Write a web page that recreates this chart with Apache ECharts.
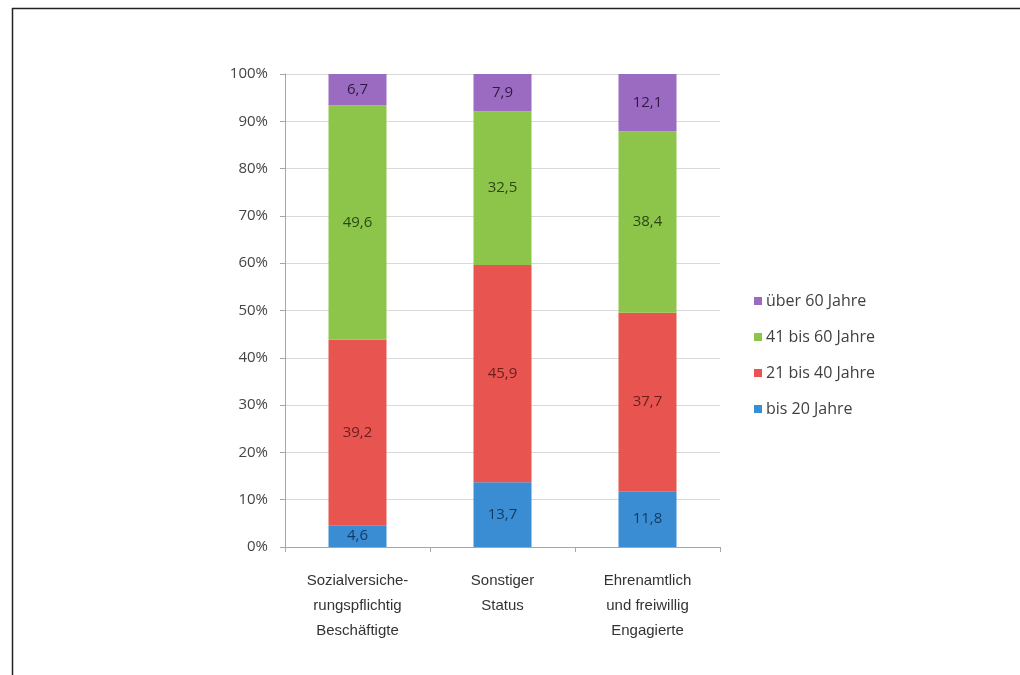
<!DOCTYPE html>
<html>
<head>
<meta charset="utf-8">
<script src="https://cdn.jsdelivr.net/npm/echarts@6/dist/echarts.min.js"></script>
<style>
html,body{margin:0;padding:0;background:#fff;}
#chart{width:1020px;height:675px;}
</style>
</head>
<body>
<div id="chart"></div>
<script>
const categories = ['Sozialversiche-\nrungspflichtig\nBeschäftigte', 'Sonstiger\nStatus', 'Ehrenamtlich\nund freiwillig\nEngagierte'];
const seriesNames = ['bis 20 Jahre', '21 bis 40 Jahre', '41 bis 60 Jahre', 'über 60 Jahre'];
const bis20 = [4.6, 13.7, 11.8];
const bis40 = [39.2, 45.9, 37.7];
const bis60 = [49.6, 32.5, 38.4];
const ueber60 = [6.7, 7.9, 12.1];
const yTicks = [0, 10, 20, 30, 40, 50, 60, 70, 80, 90, 100];

const colors = ['#3b8dd3', '#e8544f', '#8dc54b', '#9a6bc1'];
const labelColors = ['#123a5e', '#6a1e1c', '#2c4716', '#2f1a47'];
const values = [bis20, bis40, bis60, ueber60];

const chart = echarts.init(document.getElementById('chart'));
chart.setOption({
  backgroundColor: '#fff',
  animation: false,
  graphic: [
    {type: 'line', shape: {x1: 12, y1: 8.5, x2: 1020, y2: 8.5}, style: {stroke: '#222', lineWidth: 1.5}},
    {type: 'line', shape: {x1: 12.5, y1: 8, x2: 12.5, y2: 675}, style: {stroke: '#222', lineWidth: 1.5}}
  ],
  grid: {left: 285, right: 300, top: 74, bottom: 128},
  legend: {
    orient: 'vertical',
    left: 749,
    top: 288,
    itemWidth: 8,
    itemHeight: 8,
    itemGap: 20,
    icon: 'rect',
    data: ['über 60 Jahre', '41 bis 60 Jahre', '21 bis 40 Jahre', 'bis 20 Jahre'],
    textStyle: {fontFamily: 'Open Sans', fontSize: 16, color: '#404040', lineHeight: 16, padding: [0, 0, 0, -1]}
  },
  xAxis: {
    type: 'category',
    data: categories,
    axisLine: {lineStyle: {color: '#a6a6a6'}},
    axisTick: {show: true, length: 5, lineStyle: {color: '#a6a6a6'}},
    axisLabel: {fontFamily: 'Liberation Sans', fontSize: 15, color: '#333', lineHeight: 25, margin: 21}
  },
  yAxis: {
    type: 'value',
    min: 0,
    max: 100,
    interval: 10,
    axisLine: {show: true, lineStyle: {color: '#a6a6a6'}},
    axisTick: {show: true, length: 5, lineStyle: {color: '#a6a6a6'}},
    splitLine: {lineStyle: {color: '#d9d9d9'}},
    axisLabel: {fontFamily: 'Open Sans', fontSize: 15, color: '#444', margin: 17,
      formatter: v => yTicks.includes(v) ? v + '%' : ''}
  },
  series: seriesNames.map((name, i) => ({
    name: name,
    type: 'bar',
    stack: 'total',
    barWidth: 58,
    data: values[i],
    itemStyle: {color: colors[i]},
    label: {
      show: true,
      position: 'inside',
      fontFamily: 'Open Sans',
      fontSize: 15,
      color: labelColors[i],
      formatter: p => String(p.value).replace('.', ',')
    }
  }))
});
</script>
</body>
</html>
